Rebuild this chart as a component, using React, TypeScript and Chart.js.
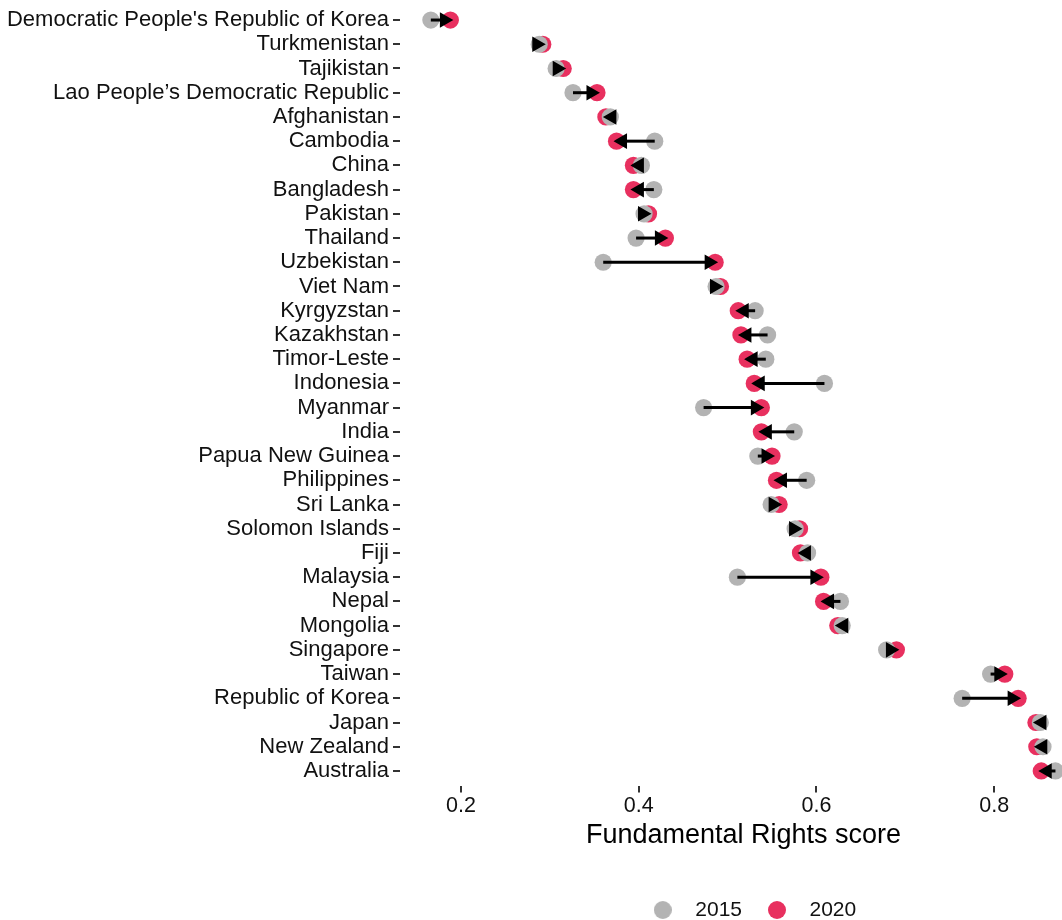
import React, { useEffect, useRef } from 'react';
import { Chart, registerables } from 'chart.js';

Chart.register(...registerables);

const countries = [
  "Democratic People's Republic of Korea",
  'Turkmenistan',
  'Tajikistan',
  'Lao People’s Democratic Republic',
  'Afghanistan',
  'Cambodia',
  'China',
  'Bangladesh',
  'Pakistan',
  'Thailand',
  'Uzbekistan',
  'Viet Nam',
  'Kyrgyzstan',
  'Kazakhstan',
  'Timor-Leste',
  'Indonesia',
  'Myanmar',
  'India',
  'Papua New Guinea',
  'Philippines',
  'Sri Lanka',
  'Solomon Islands',
  'Fiji',
  'Malaysia',
  'Nepal',
  'Mongolia',
  'Singapore',
  'Taiwan',
  'Republic of Korea',
  'Japan',
  'New Zealand',
  'Australia',
];

const score2015 = [
  0.166, 0.288, 0.307, 0.326, 0.368, 0.418, 0.403, 0.417, 0.406, 0.397,
  0.360, 0.487, 0.531, 0.545, 0.543, 0.609, 0.473, 0.575, 0.534, 0.589,
  0.549, 0.576, 0.590, 0.511, 0.627, 0.629, 0.679, 0.796, 0.764, 0.852,
  0.855, 0.869,
];

const score2020 = [
  0.188, 0.292, 0.315, 0.353, 0.363, 0.375, 0.394, 0.394, 0.411, 0.430,
  0.486, 0.492, 0.512, 0.515, 0.522, 0.530, 0.538, 0.538, 0.550, 0.555,
  0.558, 0.581, 0.582, 0.605, 0.608, 0.624, 0.690, 0.812, 0.827, 0.847,
  0.848, 0.853,
];

const xTicks = [0.2, 0.4, 0.6, 0.8];
const seriesLabels = ['2015', '2020'];
const seriesColors = ['#b3b3b3', '#e8305f'];
const xTitle = 'Fundamental Rights score';

const X_MIN = 0.1313;
const X_MAX = 0.9045;

const FONT = "'Liberation Sans', Arial, Helvetica, sans-serif";

function circleImage(color: string, d: number): HTMLCanvasElement {
  const c = document.createElement('canvas');
  c.width = d;
  c.height = d;
  const g = c.getContext('2d')!;
  g.fillStyle = color;
  g.beginPath();
  g.arc(d / 2, d / 2, d / 2, 0, Math.PI * 2);
  g.fill();
  return c;
}

export default function App() {
  const ref = useRef<HTMLCanvasElement>(null);

  useEffect(() => {
    document.body.style.margin = '0';
    const canvas = ref.current!;

    const arrowPlugin = {
      id: 'arrows',
      afterDatasetsDraw(chart: any) {
        const { ctx } = chart;
        const xs = chart.scales.x;
        const ys = chart.scales.y;
        ctx.save();
        ctx.strokeStyle = '#000';
        ctx.fillStyle = '#000';
        ctx.lineWidth = 3;
        countries.forEach((_, i) => {
          const x0 = xs.getPixelForValue(score2015[i]);
          const x1 = xs.getPixelForValue(score2020[i]);
          const yy = ys.getPixelForValue(i);
          const dir = x1 >= x0 ? 1 : -1;
          const L = 9;
          const H = 5.2;
          const back = x1 - dir * L;
          if ((back - x0) * dir > 0) {
            ctx.beginPath();
            ctx.lineCap = 'butt';
            ctx.moveTo(x0, yy);
            ctx.lineTo(back, yy);
            ctx.stroke();
          }
          ctx.beginPath();
          ctx.lineJoin = 'miter';
          ctx.moveTo(x1, yy);
          ctx.lineTo(back, yy - H);
          ctx.lineTo(back, yy + H);
          ctx.closePath();
          ctx.fill();
          ctx.stroke();
        });
        ctx.restore();
      },
    };

    const legendShift = {
      id: 'legendShift',
      afterLayout(chart: any) {
        const lg = chart.legend;
        if (lg) {
          lg.left += 5;
          lg.right += 5;
        }
      },
    };

    const chart = new Chart(canvas, {
      type: 'scatter',
      data: {
        datasets: [
          {
            label: seriesLabels[0],
            data: score2015.map((v, i) => ({ x: v, y: i })),
            backgroundColor: seriesColors[0],
            borderWidth: 0,
            pointRadius: 8.6,
            pointHoverRadius: 8.6,
          },
          {
            label: seriesLabels[1],
            data: score2020.map((v, i) => ({ x: v, y: i })),
            backgroundColor: seriesColors[1],
            borderWidth: 0,
            pointRadius: 8.6,
            pointHoverRadius: 8.6,
          },
        ],
      },
      options: {
        animation: false,
        responsive: false,
        devicePixelRatio: 1,
        layout: { autoPadding: false, padding: { top: 5.5, left: 0, right: 0, bottom: 0 } },
        plugins: {
          tooltip: { enabled: false },
          legend: {
            display: true,
            position: 'bottom',
            fullSize: false,
            maxHeight: 33.5,
            labels: {
              usePointStyle: true,
              pointStyleWidth: 44,
              padding: 13,
              color: '#111',
              font: { family: FONT, size: 21 },
              generateLabels: (ch: any) =>
                ch.data.datasets.map((ds: any, i: number) => ({
                  text: ds.label,
                  pointStyle: circleImage(ds.backgroundColor, 18),
                  fillStyle: ds.backgroundColor,
                  strokeStyle: ds.backgroundColor,
                  lineWidth: 0,
                  hidden: false,
                  datasetIndex: i,
                  fontColor: '#111',
                })),
            },
          },
        },
        scales: {
          x: {
            type: 'linear',
            position: 'bottom',
            min: X_MIN,
            max: X_MAX,
            afterBuildTicks: (s: any) => {
              s.ticks = xTicks.map((v) => ({ value: v }));
            },
            afterFit: (s: any) => {
              s.height = 101;
              s.paddingLeft = 0;
              s.paddingRight = 0;
            },
            grid: {
              display: true,
              drawOnChartArea: false,
              drawTicks: true,
              tickLength: 7,
              color: '#333333',
              lineWidth: 2,
            },
            border: { display: false },
            ticks: {
              autoSkip: false,
              maxRotation: 0,
              padding: 1,
              color: '#111',
              font: { family: FONT, size: 21.5 },
              callback: (v: any) => Number(v).toFixed(1),
            },
            title: {
              display: true,
              text: xTitle,
              color: '#000',
              font: { family: FONT, size: 27 },
              padding: { top: 0, bottom: 35 },
            },
          },
          y: {
            type: 'linear',
            min: -0.6,
            max: countries.length - 0.4,
            reverse: true,
            afterBuildTicks: (s: any) => {
              s.ticks = countries.map((_, i) => ({ value: i }));
            },
            afterFit: (s: any) => {
              s.width = 400;
              s.paddingTop = 0;
              s.paddingBottom = 0;
            },
            grid: {
              display: true,
              drawOnChartArea: false,
              drawTicks: true,
              tickLength: 7,
              color: '#333333',
              lineWidth: 2,
            },
            border: { display: false },
            ticks: {
              autoSkip: false,
              padding: 4,
              color: '#111',
              font: { family: FONT, size: 22 },
              callback: (v: any) => countries[Math.round(Number(v))],
            },
          },
        },
      },
      plugins: [arrowPlugin, legendShift],
    } as any);

    return () => chart.destroy();
  }, []);

  return (
    <div style={{ width: 1062, height: 920, overflow: 'hidden', background: '#fff' }}>
      <canvas ref={ref} width={1087} height={920} style={{ display: 'block' }} />
    </div>
  );
}
